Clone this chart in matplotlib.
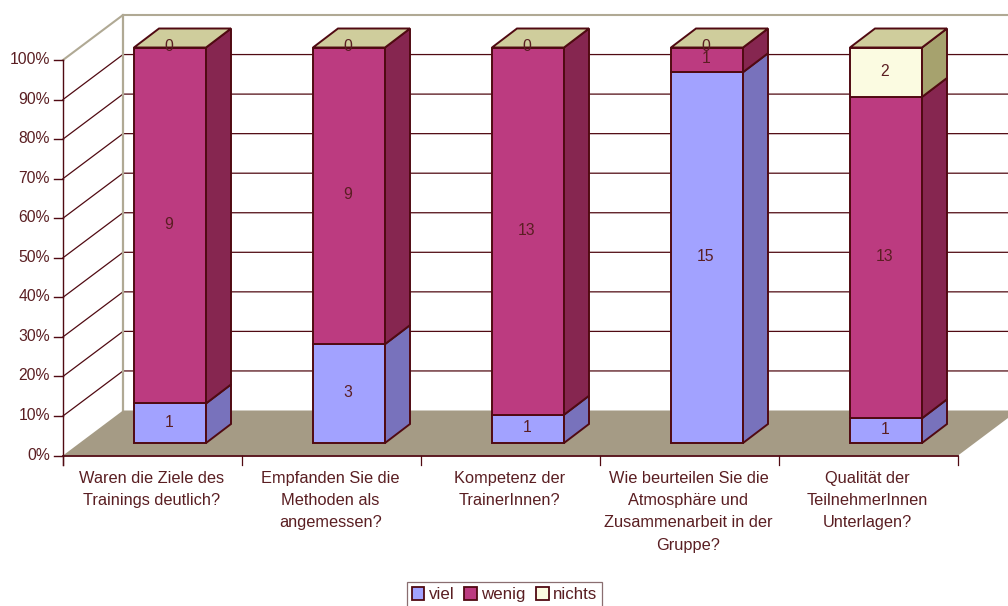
import numpy as np
import matplotlib
matplotlib.use('Agg')
import matplotlib.pyplot as plt
from matplotlib.patches import Polygon, Patch

plt.rcParams['font.family'] = ['Liberation Sans', 'DejaVu Sans']

categories = [
    'Waren die Ziele des\nTrainings deutlich?',
    'Empfanden Sie die\nMethoden als\nangemessen?',
    'Kompetenz der\nTrainerInnen?',
    'Wie beurteilen Sie die\nAtmosphäre und\nZusammenarbeit in der\nGruppe?',
    'Qualität der\nTeilnehmerInnen\nUnterlagen?',
]
series_names = ['viel', 'wenig', 'nichts']
viel = [1, 3, 1, 15, 1]
wenig = [9, 9, 13, 1, 13]
nichts = [0, 0, 0, 0, 2]
pct_ticks = [0, 10, 20, 30, 40, 50, 60, 70, 80, 90, 100]

front_col = ['#A2A2FF', '#BC3B80', '#FBFBE1']
side_col = ['#7872BC', '#862650', '#A6A26E']
top_col = '#CFCD9C'
edge_col = '#500A12'
text_col = '#5A1E22'
wall_col = '#B0A994'
floor_col = '#A59B85'

# layout of the fake 3d box, in pixels
x0, x1 = 63, 958
y0, plot_h = 455.5, 395.5
depth_x, depth_y = 60, -45
bar_w = 72
bar_dx, bar_dy = 25, -19
bar_off_x, bar_off_y = 17.5, -12.5
cat_w = (x1 - x0) / len(categories)


def ypos(p):
    return y0 - plot_h * p / 100


fig = plt.figure(figsize=(10.08, 6.06), dpi=100)
ax = fig.add_axes([0, 0, 1, 1])
ax.set_xlim(0, 1008)
ax.set_ylim(606, 0)
ax.axis('off')

# walls and gridlines
for p in pct_ticks:
    y = ypos(p)
    c = wall_col if p == 100 else edge_col
    lw = 1.5 if p == 100 else 0.9
    if p > 0:
        ax.plot([x0, x0 + depth_x, x1 + depth_x], [y, y + depth_y, y + depth_y], color=c, lw=lw, zorder=1)
    ax.plot([x0 - 9, x0], [y, y], color=edge_col, lw=1, zorder=3)
    ax.text(x0 - 13, y - 0.5, '%d%%' % p, ha='right', va='center', fontsize=11.3, color=text_col)
ax.plot([x0 + depth_x, x0 + depth_x], [ypos(0) + depth_y, ypos(100) + depth_y], color=wall_col, lw=1.6, zorder=2)

# floor
ax.add_patch(Polygon([(x0, y0), (x0 + depth_x, y0 + depth_y), (x1 + depth_x, y0 + depth_y), (x1, y0)],
                     facecolor=floor_col, edgecolor='none', zorder=2))

# axes lines and category ticks
ax.plot([x0, x0], [ypos(100), y0 + 9], color=edge_col, lw=1, zorder=3)
ax.plot([x0, x1], [y0, y0], color=edge_col, lw=1.3, zorder=3)
for i in range(len(categories) + 1):
    xt = x0 + i * cat_w
    ax.plot([xt, xt], [y0, y0 + 9], color=edge_col, lw=0.9, zorder=3)

# stacked bars
values = np.array([viel, wenig, nichts], dtype=float)
totals = values.sum(axis=0)
for i in range(len(categories)):
    xl = x0 + (i + 0.5) * cat_w + bar_off_x - bar_w / 2
    xr = xl + bar_w
    bottom = 0.0
    for s in range(len(series_names)):
        v = values[s, i]
        p = 100 * v / totals[i]
        yb = ypos(bottom) + bar_off_y
        yt = ypos(bottom + p) + bar_off_y
        if v > 0:
            ax.add_patch(Polygon([(xl, yb), (xr, yb), (xr, yt), (xl, yt)], facecolor=front_col[s],
                                 edgecolor=edge_col, lw=1.4, zorder=4, joinstyle='miter'))
            ax.add_patch(Polygon([(xr, yb), (xr + bar_dx, yb + bar_dy), (xr + bar_dx, yt + bar_dy), (xr, yt)],
                                 facecolor=side_col[s], edgecolor=edge_col, lw=1.4, zorder=4, joinstyle='miter'))
        ax.text((xl + xr) / 2 - 1, (yb + yt) / 2 - 1, '%d' % v, ha='center', va='center', fontsize=11.3,
                color=text_col, zorder=6)
        bottom += p
    yt = ypos(100) + bar_off_y
    ax.add_patch(Polygon([(xl, yt), (xr, yt), (xr + bar_dx, yt + bar_dy), (xl + bar_dx, yt + bar_dy)],
                         facecolor=top_col, edgecolor=edge_col, lw=1.4, zorder=4, joinstyle='miter'))
    ax.text(x0 + (i + 0.5) * cat_w - 1, 471, categories[i], ha='center', va='top', fontsize=11.8,
            color=text_col, linespacing=1.6)

handles = [Patch(facecolor=front_col[k], edgecolor=edge_col, lw=1.3) for k in range(3)]
leg = ax.legend(handles, series_names, loc='lower left', bbox_to_anchor=(406.5 / 1008, -0.002), ncol=3,
                fontsize=12.2, fancybox=False, framealpha=1, edgecolor='#8A6E70', labelcolor=text_col,
                handlelength=0.75, handleheight=0.8, handletextpad=0.25, columnspacing=0.6,
                borderpad=0.3, borderaxespad=0)
leg.get_frame().set_linewidth(0.9)

fig.savefig('out.png', dpi=100)
